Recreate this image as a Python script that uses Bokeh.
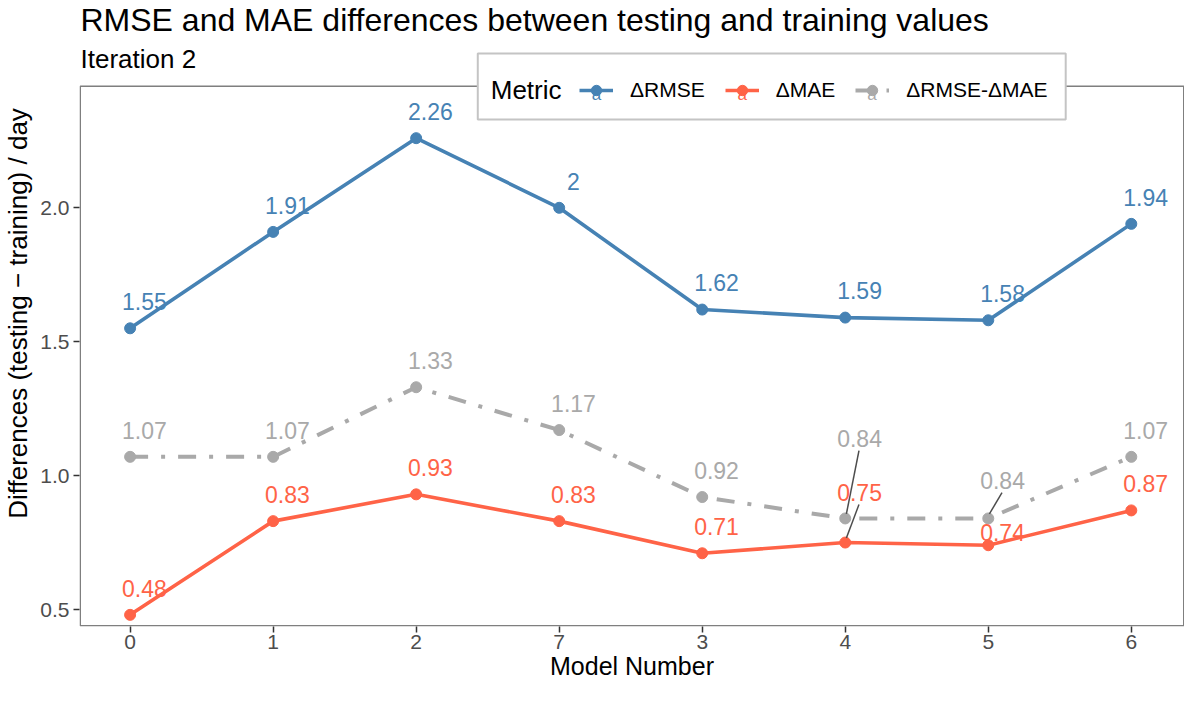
from bokeh.plotting import figure
from bokeh.models import ColumnDataSource, Legend, LegendItem, FixedTicker, Range1d
from bokeh.embed import file_html
from bokeh.resources import INLINE
from bokeh.core.properties import value

# ---------------- data ----------------
models = ["0", "1", "2", "7", "3", "4", "5", "6"]
d_rmse = [1.55, 1.91, 2.26, 2.00, 1.62, 1.59, 1.58, 1.94]
d_mae = [0.48, 0.83, 0.93, 0.83, 0.71, 0.75, 0.74, 0.87]
d_diff = [1.07, 1.07, 1.33, 1.17, 0.92, 0.84, 0.84, 1.07]
rmse_text = ["1.55", "1.91", "2.26", "2", "1.62", "1.59", "1.58", "1.94"]
mae_text = ["0.48", "0.83", "0.93", "0.83", "0.71", "0.75", "0.74", "0.87"]
diff_text = ["1.07", "1.07", "1.33", "1.17", "0.92", "0.84", "0.84", "1.07"]
series_names = ["\u0394RMSE", "\u0394MAE", "\u0394RMSE-\u0394MAE"]
y_ticks = [0.5, 1.0, 1.5, 2.0]
y_tick_text = ["0.5", "1.0", "1.5", "2.0"]
title_text = "RMSE and MAE differences between testing and training values"
subtitle_text = "Iteration 2"
legend_title = "Metric"
x_title = "Model Number"
y_title = "Differences (testing \u2212 training) / day"

# ---------------- layout (pixels on the picture) ----------------
W, H = 1184, 687
B_LEFT, B_RIGHT, B_TOP, B_BOTTOM = 77, 0, 0, 61
FRAME_W = W - B_LEFT - B_RIGHT
FRAME_H = H - B_TOP - B_BOTTOM
FX0, FY0 = B_LEFT, B_TOP
PX_FIRST, PX_LAST = 127.7, 1130.7      # x pixel of first / last category
PX_TICK_HI, PX_TICK_LO = 207.3, 609.0  # y pixel of top / bottom y tick
PANEL_TOP_PX = 85.7

n = len(models)
ppu_x = (PX_LAST - PX_FIRST) / (n - 1)
x_start = -(PX_FIRST - FX0) / ppu_x
x_end = x_start + FRAME_W / ppu_x
ppu_y = (PX_TICK_LO - PX_TICK_HI) / (y_ticks[-1] - y_ticks[0])
y_end = y_ticks[-1] + (PX_TICK_HI - FY0) / ppu_y
y_start = y_end - FRAME_H / ppu_y
panel_top = y_end - (PANEL_TOP_PX - FY0) / ppu_y

def X(sx):
    return x_start + (sx - FX0) / ppu_x

def Y(sy):
    return y_end - (sy - FY0) / ppu_y

# label placement offsets
NUDGE_X = 0.1
NUDGE_Y = 0.1
mae_repel = {5: 0.188, 6: 0.049}
diff_repel = {5: 0.299, 6: 0.142}
mae_segment = [5]
diff_segment = [5, 6]

FONT = "Liberation Sans"
C_RMSE = "#4682B4"
C_MAE = "#FF6347"
C_DIFF = "#A9A9A9"
C_BORDER = "#7F7F7F"

xs = list(range(n))

p = figure(width=W, height=H, output_backend="svg", toolbar_location=None,
           x_range=Range1d(x_start, x_end), y_range=Range1d(y_start, y_end),
           min_border_left=B_LEFT, min_border_right=B_RIGHT,
           min_border_top=B_TOP, min_border_bottom=B_BOTTOM)

p.xgrid.visible = False
p.ygrid.visible = False
p.outline_line_color = None
p.background_fill_color = "white"
p.border_fill_color = "white"

def style_axis(ax):
    ax.axis_line_color = None
    ax.major_tick_in = 0
    ax.major_tick_out = 6
    ax.major_tick_line_color = "#333333"
    ax.major_tick_line_width = 1.5
    ax.minor_tick_line_color = None
    ax.major_label_text_font = FONT
    ax.major_label_text_font_size = "21px"
    ax.major_label_text_color = "#4D4D4D"
    ax.major_label_standoff = 2
    ax.axis_label_text_font = FONT
    ax.axis_label_text_font_size = "25px"
    ax.axis_label_text_font_style = "normal"
    ax.axis_label_text_color = "#000000"
    ax.axis_label_standoff = 0

style_axis(p.xaxis[0])
style_axis(p.yaxis[0])
p.yaxis[0].axis_label_text_font_size = "26px"
p.yaxis[0].major_label_standoff = 4
p.yaxis[0].axis_label_standoff = 4
p.xaxis[0].ticker = FixedTicker(ticks=xs)
p.xaxis[0].major_label_overrides = {i: m for i, m in enumerate(models)}
p.xaxis[0].axis_label = x_title
p.yaxis[0].ticker = FixedTicker(ticks=y_ticks)
p.yaxis[0].major_label_overrides = {t: s for t, s in zip(y_ticks, y_tick_text)}
p.yaxis[0].axis_label = y_title

src_rmse = ColumnDataSource(dict(x=xs, y=d_rmse))
src_mae = ColumnDataSource(dict(x=xs, y=d_mae))
src_diff = ColumnDataSource(dict(x=xs, y=d_diff))

LW = 3.6
DASH = "18 13 4 13"
l1 = p.line("x", "y", source=src_rmse, line_color=C_RMSE, line_width=LW)
l2 = p.line("x", "y", source=src_mae, line_color=C_MAE, line_width=LW)
l3 = p.line("x", "y", source=src_diff, line_color=C_DIFF, line_width=LW + 0.4, line_dash=DASH)
s1 = p.scatter("x", "y", source=src_rmse, size=11, fill_color=C_RMSE, line_color=C_RMSE)
s2 = p.scatter("x", "y", source=src_mae, size=11, fill_color=C_MAE, line_color=C_MAE)
s3 = p.scatter("x", "y", source=src_diff, size=11, fill_color=C_DIFF, line_color=C_DIFF)

# connector segments of repelled labels
seg_x0, seg_y0, seg_x1, seg_y1 = [], [], [], []
for vals, rep, idxs in ((d_mae, mae_repel, mae_segment), (d_diff, diff_repel, diff_segment)):
    for i in idxs:
        seg_x0.append(xs[i] + NUDGE_X - 0.004)
        seg_y0.append(vals[i] + rep[i] - 0.046)
        seg_x1.append(xs[i] + 0.008)
        seg_y1.append(vals[i] + 0.017)
p.segment(x0=seg_x0, y0=seg_y0, x1=seg_x1, y1=seg_y1, line_color="#4D4D4D", line_width=1.5)

def add_labels(vals, texts, color, repel):
    lx = [x + NUDGE_X for x in xs]
    ly = [v + repel.get(i, NUDGE_Y) for i, v in enumerate(vals)]
    p.text(x=lx, y=ly, text=texts, text_color=color, text_align="center",
           text_baseline="middle", text_font=value(FONT), text_font_size="23px")

add_labels(d_rmse, rmse_text, C_RMSE, {})
add_labels(d_mae, mae_text, C_MAE, mae_repel)
add_labels(d_diff, diff_text, C_DIFF, diff_repel)

# visible panel border
pad_x = 0.75 / ppu_x
pad_y = 0.75 / ppu_y
p.quad(left=[x_start + pad_x], right=[x_end - pad_x], bottom=[y_start + pad_y], top=[panel_top],
       fill_color=None, line_color=C_BORDER, line_width=1.5)

# legend box (straddles the panel top)
p.quad(left=[X(476)], right=[X(1065)], top=[Y(53)], bottom=[Y(119)],
       fill_color="white", line_color="#C4C4C4", line_width=2)
p.text(x=[X(489)], y=[Y(89)], text=[legend_title], text_align="left", text_baseline="middle",
       text_font=value(FONT), text_font_size="26px", text_color="#000000")
# geom_text legend keys ("a") partly under the point keys
p.text(x=[X(595), X(741), X(871)], y=[Y(94)] * 3, text=["a", "a", "a"],
       text_color=[C_RMSE, C_MAE, C_DIFF], text_align="center", text_baseline="middle",
       text_font=value(FONT), text_font_size="17px")

legend = Legend(items=[LegendItem(label=series_names[0], renderers=[l1, s1]),
                       LegendItem(label=series_names[1], renderers=[l2, s2]),
                       LegendItem(label=series_names[2], renderers=[l3, s3])],
                orientation="horizontal",
                location=(577 - FX0, (FY0 + FRAME_H) - 102.5), margin=0, padding=0, spacing=20,
                glyph_width=34, glyph_height=26, label_standoff=17,
                label_text_font=FONT, label_text_font_size="21px", label_text_color="#000000",
                border_line_color=None, background_fill_alpha=0.0)
p.add_layout(legend, "center")

# title and subtitle (inside the drawing area, above the panel)
p.text(x=[X(78)], y=[Y(19)], text=[title_text], text_align="left", text_baseline="middle",
       text_font=value(FONT), text_font_size="32px", text_color="#000000")
p.text(x=[X(78)], y=[Y(58)], text=[subtitle_text], text_align="left", text_baseline="middle",
       text_font=value(FONT), text_font_size="26px", text_color="#000000")

open("out.html", "w").write(file_html(p, INLINE))
